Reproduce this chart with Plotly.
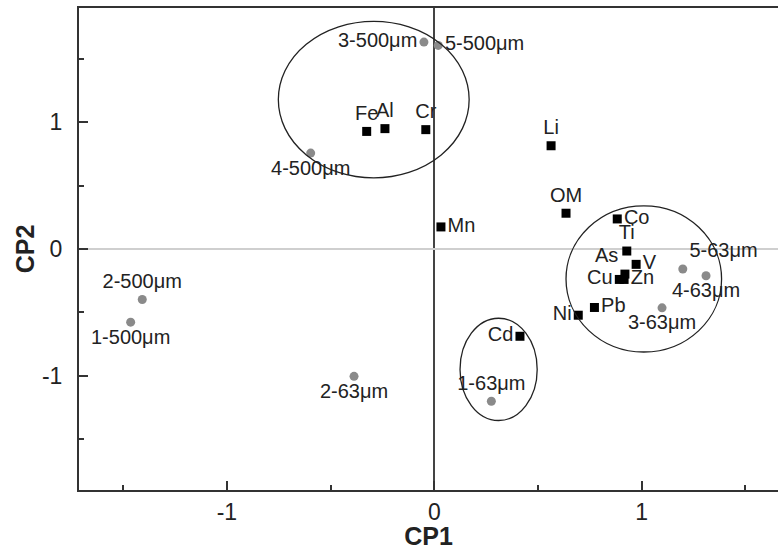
import plotly.graph_objects as go

# Variables (loadings) - black squares
var_names = ["Fe", "Al", "Cr", "Li", "OM", "Co", "Ti", "V", "As", "Cu", "Zn", "Pb", "Ni", "Mn", "Cd"]
var_cp1 = [-0.326, -0.238, -0.041, 0.563, 0.635, 0.882, 0.928, 0.973, 0.919, 0.892, 0.915, 0.772, 0.694, 0.032, 0.413]
var_cp2 = [0.927, 0.949, 0.941, 0.814, 0.282, 0.237, -0.016, -0.121, -0.198, -0.24, -0.24, -0.461, -0.522, 0.174, -0.688]
var_textpos = ["top center", "top center", "top center", "top center", "top center", "middle right",
               "top center", "middle right", "top left", "middle left", "middle right", "middle right",
               "middle left", "middle right", "middle left"]

# Samples (scores) - gray circles
smp_names = ["3-500μm", "5-500μm", "4-500μm", "2-500μm", "1-500μm", "2-63μm", "1-63μm",
             "5-63μm", "4-63μm", "3-63μm"]
smp_cp1 = [-0.05, 0.019, -0.596, -1.408, -1.464, -0.387, 0.275, 1.198, 1.31, 1.098]
smp_cp2 = [1.631, 1.605, 0.756, -0.398, -0.577, -1.004, -1.20, -0.158, -0.211, -0.464]
smp_textpos = ["middle left", "middle right", "bottom center", "top center", "bottom center",
               "bottom center", "top center", "top right", "bottom center", "bottom center"]

# Group ellipses: centre (cp1, cp2) and semi-axes
ell_cx = [-0.292, 1.01, 0.31]
ell_cy = [1.178, -0.236, -0.949]
ell_rx = [0.46, 0.375, 0.186]
ell_ry = [0.617, 0.576, 0.403]

FONT = "Liberation Sans, Arial, sans-serif"
fig = go.Figure()
lab_font = dict(family=FONT, size=20, color="#222")

fig.add_trace(go.Scatter(
    x=smp_cp1, y=smp_cp2, mode="markers+text", text=smp_names, textposition=smp_textpos,
    marker=dict(symbol="circle", size=9, color="#8a8a8a"), textfont=lab_font,
    cliponaxis=False, showlegend=False))
fig.add_trace(go.Scatter(
    x=var_cp1, y=var_cp2, mode="markers+text", text=var_names, textposition=var_textpos,
    marker=dict(symbol="square", size=9, color="black"), textfont=lab_font,
    cliponaxis=False, showlegend=False))

for cx, cy, rx, ry in zip(ell_cx, ell_cy, ell_rx, ell_ry):
    fig.add_shape(type="circle", xref="x", yref="y", x0=cx - rx, x1=cx + rx, y0=cy - ry, y1=cy + ry,
                  line=dict(color="#222", width=1.3))

axis_font = dict(family=FONT, size=23, color="#222")
title_font = dict(family=FONT, size=25, color="#222")
fig.update_xaxes(
    range=[-1.713, 1.657], tickvals=[-1, 0, 1], ticktext=["-1", "0", "1"],
    ticks="inside", ticklen=9, tickwidth=2, tickcolor="#333",
    minor=dict(dtick=0.5, tick0=0, ticks="inside", ticklen=5, tickwidth=2, tickcolor="#333"),
    showline=True, linecolor="#333", linewidth=2, mirror=True,
    showgrid=False, zeroline=True, zerolinecolor="#444", zerolinewidth=1.5,
    tickfont=axis_font, ticklabelstandoff=0,
    title=dict(text="<b>CP1</b>", font=title_font, standoff=0))
fig.update_yaxes(
    range=[-1.9, 1.9], tickvals=[-1, 0, 1], ticktext=["-1", "0", "1"],
    ticks="inside", ticklen=9, tickwidth=2, tickcolor="#333",
    minor=dict(dtick=0.5, tick0=0, ticks="inside", ticklen=5, tickwidth=2, tickcolor="#333"),
    showline=True, linecolor="#333", linewidth=2,
    showgrid=False, zeroline=True, zerolinecolor="#cfcfcf", zerolinewidth=1.5,
    tickfont=axis_font, ticklabelstandoff=10,
    title=dict(text="<b>CP2</b>", font=title_font, standoff=0))

fig.update_layout(
    width=778, height=550, margin=dict(l=79, r=0, t=8, b=60),
    plot_bgcolor="white", paper_bgcolor="white", showlegend=False)

fig.write_html("out.html")
